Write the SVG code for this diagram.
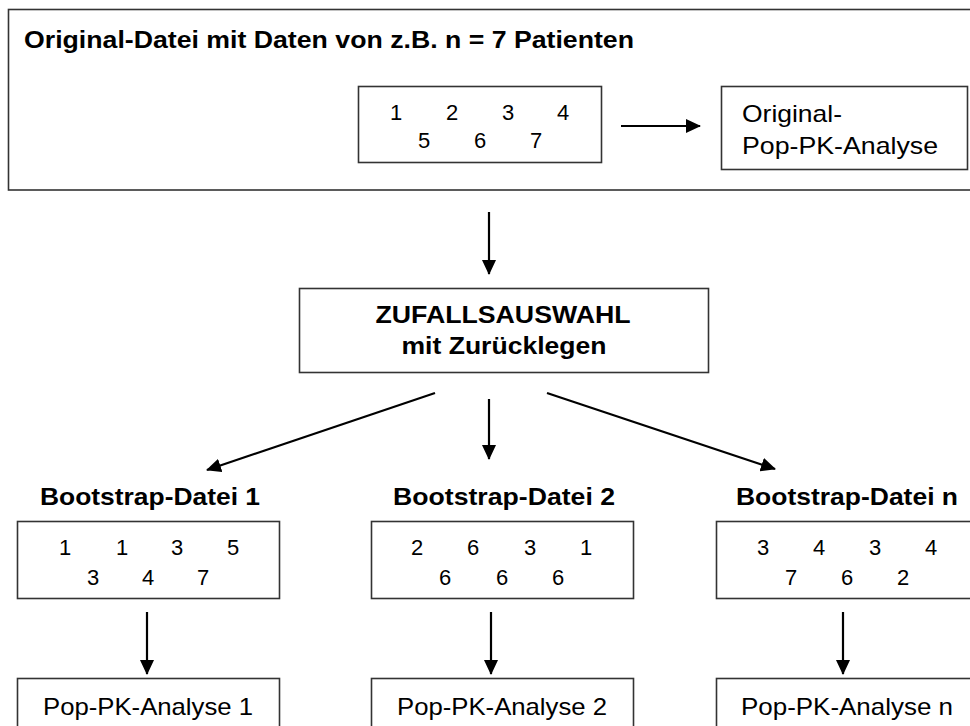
<svg xmlns="http://www.w3.org/2000/svg" width="970" height="726" viewBox="0 0 970 726">
  <style>
    .box { fill: #fff; stroke: #333; stroke-width: 1.6; }
    .ln { fill: none; stroke: #000; stroke-width: 2.2; marker-end: url(#ah); }
    .t { font-family: "Liberation Sans", Arial, sans-serif; font-size: 24px; fill: #000; }
    .b { font-family: "Liberation Sans", Arial, sans-serif; font-size: 24px; font-weight: bold; fill: #000; }
    .d { font-family: "Liberation Sans", Arial, sans-serif; font-size: 22px; fill: #000; text-anchor: middle; }
  </style>
  <defs>
    <marker id="ah" viewBox="0 0 15 14" refX="14" refY="7" markerWidth="15" markerHeight="14" markerUnits="userSpaceOnUse" orient="auto">
      <path d="M0,0 L15,7 L0,14 z" fill="#000"/>
    </marker>
  </defs>
  <rect width="970" height="726" fill="#fff"/>

  <!-- original data file frame -->
  <g id="original">
    <rect class="box" x="8.5" y="9.5" width="990" height="180.5"/>
    <text class="b" x="24" y="48" textLength="610" lengthAdjust="spacingAndGlyphs">Original-Datei mit Daten von z.B. n = 7 Patienten</text>
  </g>

  <g id="original-data">
    <rect class="box" x="358.5" y="86.5" width="243" height="76"/>
    <text class="d" x="396" y="120">1</text>
    <text class="d" x="452" y="120">2</text>
    <text class="d" x="508" y="120">3</text>
    <text class="d" x="563" y="120">4</text>
    <text class="d" x="424" y="148">5</text>
    <text class="d" x="480" y="148">6</text>
    <text class="d" x="536" y="148">7</text>
  </g>

  <g id="original-analysis">
    <rect class="box" x="721.5" y="86.5" width="246" height="83"/>
    <text class="t" x="742" y="122" textLength="100" lengthAdjust="spacingAndGlyphs">Original-</text>
    <text class="t" x="742" y="154" textLength="196" lengthAdjust="spacingAndGlyphs">Pop-PK-Analyse</text>
  </g>

  <!-- resampling step -->
  <g id="resampling">
    <rect class="box" x="299.5" y="288.5" width="409" height="84"/>
    <text class="b" x="503" y="323" text-anchor="middle" textLength="255" lengthAdjust="spacingAndGlyphs">ZUFALLSAUSWAHL</text>
    <text class="b" x="504" y="354" text-anchor="middle" textLength="205" lengthAdjust="spacingAndGlyphs">mit Zurücklegen</text>
  </g>

  <!-- bootstrap files -->
  <g id="bootstrap-1">
    <text class="b" x="150" y="505" text-anchor="middle" textLength="220" lengthAdjust="spacingAndGlyphs">Bootstrap-Datei 1</text>
    <rect class="box" x="17.5" y="521.5" width="262" height="77"/>
    <text class="d" x="65" y="555">1</text>
    <text class="d" x="122" y="555">1</text>
    <text class="d" x="177" y="555">3</text>
    <text class="d" x="233" y="555">5</text>
    <text class="d" x="93" y="585">3</text>
    <text class="d" x="148" y="585">4</text>
    <text class="d" x="203" y="585">7</text>
  </g>

  <g id="bootstrap-2">
    <text class="b" x="504" y="505" text-anchor="middle" textLength="222" lengthAdjust="spacingAndGlyphs">Bootstrap-Datei 2</text>
    <rect class="box" x="371.5" y="521.5" width="262" height="77"/>
    <text class="d" x="417" y="555">2</text>
    <text class="d" x="473" y="555">6</text>
    <text class="d" x="530" y="555">3</text>
    <text class="d" x="586" y="555">1</text>
    <text class="d" x="445" y="585">6</text>
    <text class="d" x="502" y="585">6</text>
    <text class="d" x="558" y="585">6</text>
  </g>

  <g id="bootstrap-n">
    <text class="b" x="847" y="505" text-anchor="middle" textLength="222" lengthAdjust="spacingAndGlyphs">Bootstrap-Datei n</text>
    <rect class="box" x="716.5" y="521.5" width="262" height="77"/>
    <text class="d" x="763" y="555">3</text>
    <text class="d" x="819" y="555">4</text>
    <text class="d" x="875" y="555">3</text>
    <text class="d" x="931" y="555">4</text>
    <text class="d" x="791" y="585">7</text>
    <text class="d" x="847" y="585">6</text>
    <text class="d" x="903" y="585">2</text>
  </g>

  <!-- per-file analyses -->
  <g id="analysis-1">
    <rect class="box" x="17.5" y="678.5" width="262" height="60"/>
    <text class="t" x="148" y="715" text-anchor="middle" textLength="210" lengthAdjust="spacingAndGlyphs">Pop-PK-Analyse 1</text>
  </g>
  <g id="analysis-2">
    <rect class="box" x="371.5" y="678.5" width="262" height="60"/>
    <text class="t" x="502" y="715" text-anchor="middle" textLength="210" lengthAdjust="spacingAndGlyphs">Pop-PK-Analyse 2</text>
  </g>
  <g id="analysis-n">
    <rect class="box" x="716.5" y="678.5" width="262" height="60"/>
    <text class="t" x="847" y="715" text-anchor="middle" textLength="212" lengthAdjust="spacingAndGlyphs">Pop-PK-Analyse n</text>
  </g>

  <!-- connectors -->
  <g id="connectors">
    <line class="ln" x1="621" y1="126" x2="700" y2="126"/>
    <line class="ln" x1="489" y1="212" x2="489" y2="274"/>
    <line class="ln" x1="435" y1="393" x2="207" y2="470"/>
    <line class="ln" x1="489" y1="399" x2="489" y2="459"/>
    <line class="ln" x1="547" y1="393" x2="775" y2="469"/>
    <line class="ln" x1="147" y1="612" x2="147" y2="674"/>
    <line class="ln" x1="491" y1="612" x2="491" y2="674"/>
    <line class="ln" x1="843" y1="612" x2="843" y2="674"/>
  </g>
</svg>
